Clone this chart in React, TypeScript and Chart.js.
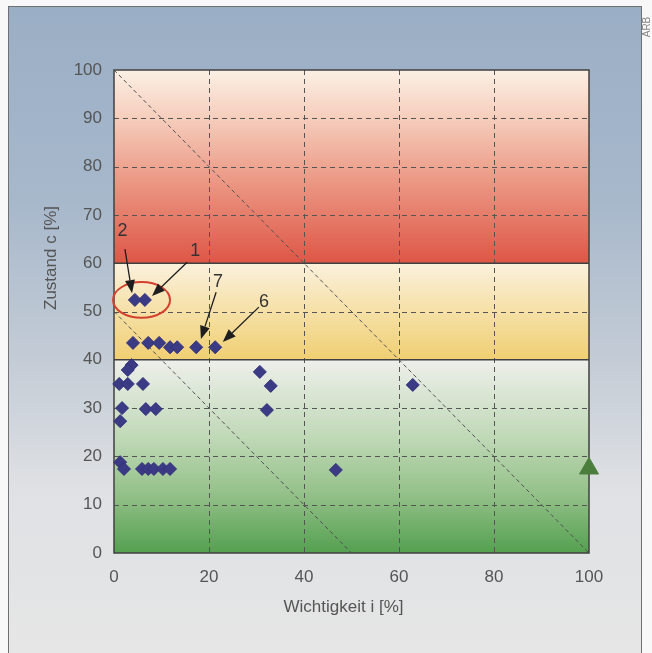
import React, { useEffect, useRef } from 'react';
import { Chart, registerables } from 'chart.js';
Chart.register(...registerables);

const W = 652;
const H = 653;

// Measures: Wichtigkeit i [%] (x) vs Zustand c [%] (y)
const pointX = [6.5, 4.4, 4.0, 7.2, 9.5, 11.8, 13.3, 17.3, 21.3, 3.7, 2.9, 1.1, 2.9, 6.1, 1.7, 6.7, 8.8, 1.3, 1.3, 2.1, 5.9, 7.2, 8.4, 10.3, 11.8, 30.7, 33.0, 32.2, 46.7, 62.9];
const pointY = [52.4, 52.4, 43.5, 43.5, 43.5, 42.6, 42.6, 42.6, 42.6, 38.9, 37.9, 35.0, 35.0, 35.0, 30.0, 29.8, 29.8, 27.3, 18.8, 17.4, 17.4, 17.4, 17.4, 17.4, 17.4, 37.5, 34.6, 29.6, 17.2, 34.8];

const targetX = [100];
const targetY = [17.5];

// diagonal reference lines (i + c = const)
const diag1X = [0, 100];
const diag1Y = [100, 0];
const diag2X = [0, 50];
const diag2Y = [50, 0];

// zones (c ranges)
const zoneLow = [0, 40, 60];
const zoneHigh = [40, 60, 100];

const xTickStep = 20;
const yTickStep = 10;

// callouts: label, label pos, arrow start, arrow tip (data units)
const calloutLabels = ['2', '1', '7', '6'];
const calloutLabelX = [1.8, 17.1, 21.9, 31.6];
const calloutLabelY = [66.7, 62.5, 56.1, 52.0];
const calloutFromX = [2.3, 15.4, 21.5, 30.5];
const calloutFromY = [62.9, 60.2, 54.0, 50.9];
const calloutToX = [3.8, 8.0, 18.3, 22.9];
const calloutToY = [53.8, 53.2, 44.3, 43.7];

const ellipseCX = 5.8;
const ellipseCY = 52.4;
const ellipseRX = 6.0;
const ellipseRY = 3.7;

const FONT = '"Liberation Sans", Arial, sans-serif';

// zone colour stops (styles)
const zoneStops: [number, string][][] = [
  [[0, '#eeefeb'], [0.4, '#c0d9b7'], [0.7, '#93c088'], [1, '#54a050']],
  [[0, '#fbf1dc'], [1, '#f0cf72']],
  [[0, '#fbf0e4'], [0.25, '#f6cdbc'], [0.55, '#ec9c88'], [1, '#de5646']],
];

function drawArrow(ctx: CanvasRenderingContext2D, x1: number, y1: number, x2: number, y2: number) {
  const ang = Math.atan2(y2 - y1, x2 - x1);
  const len = 13;
  const hw = 5;
  const bx = x2 - Math.cos(ang) * len;
  const by = y2 - Math.sin(ang) * len;
  ctx.beginPath();
  ctx.moveTo(x1, y1);
  ctx.lineTo(bx, by);
  ctx.stroke();
  ctx.beginPath();
  ctx.moveTo(x2, y2);
  ctx.lineTo(bx - Math.sin(ang) * hw, by + Math.cos(ang) * hw);
  ctx.lineTo(bx + Math.sin(ang) * hw, by - Math.cos(ang) * hw);
  ctx.closePath();
  ctx.fill();
}

const decorPlugin = {
  id: 'decor',
  beforeDraw(chart: any) {
    const { ctx, chartArea: a, scales } = chart;
    const y = scales.y;
    ctx.save();
    ctx.fillStyle = '#f8f8f8';
    ctx.fillRect(0, 0, W, H);
    const g = ctx.createLinearGradient(0, 6, 0, H);
    g.addColorStop(0, '#9aaec5');
    g.addColorStop(0.3, '#a7b8cb');
    g.addColorStop(0.55, '#c4ccd6');
    g.addColorStop(0.75, '#dfe1e4');
    g.addColorStop(1, '#e6e6e6');
    ctx.fillStyle = g;
    ctx.fillRect(8, 6, 634, H - 6);
    ctx.strokeStyle = '#707070';
    ctx.lineWidth = 1;
    ctx.strokeRect(8.5, 6.5, 633, H + 10);
    for (let i = 0; i < zoneLow.length; i++) {
      const yTop = y.getPixelForValue(zoneHigh[i]);
      const yBot = y.getPixelForValue(zoneLow[i]);
      const zg = ctx.createLinearGradient(0, yTop, 0, yBot);
      zoneStops[i].forEach(([o, c]) => zg.addColorStop(o, c));
      ctx.fillStyle = zg;
      ctx.fillRect(a.left, yTop, a.right - a.left, yBot - yTop);
    }
    ctx.restore();
  },
  beforeDatasetsDraw(chart: any) {
    const { ctx, chartArea: a, scales } = chart;
    const x = scales.x;
    const y = scales.y;
    ctx.save();
    ctx.strokeStyle = '#555555';
    ctx.lineWidth = 1;
    ctx.setLineDash([5, 4]);
    x.ticks.forEach((t: any) => {
      if (t.value > 0 && t.value < 100) {
        const px = Math.round(x.getPixelForValue(t.value)) + 0.5;
        ctx.beginPath();
        ctx.moveTo(px, a.top);
        ctx.lineTo(px, a.bottom);
        ctx.stroke();
      }
    });
    y.ticks.forEach((t: any) => {
      if (t.value > 0 && t.value < 100 && !zoneLow.includes(t.value)) {
        const py = Math.round(y.getPixelForValue(t.value)) + 0.5;
        ctx.beginPath();
        ctx.moveTo(a.left, py);
        ctx.lineTo(a.right, py);
        ctx.stroke();
      }
    });
    ctx.setLineDash([]);
    ctx.strokeStyle = '#404040';
    ctx.lineWidth = 1.5;
    zoneLow.forEach((v) => {
      if (v > 0) {
        const py = y.getPixelForValue(v);
        ctx.beginPath();
        ctx.moveTo(a.left, py);
        ctx.lineTo(a.right, py);
        ctx.stroke();
      }
    });
    ctx.strokeRect(a.left, a.top, a.right - a.left, a.bottom - a.top);
    ctx.restore();
  },
  afterDatasetsDraw(chart: any) {
    const { ctx, chartArea: a, scales } = chart;
    const x = scales.x;
    const y = scales.y;
    ctx.save();
    // ellipse
    const cx = x.getPixelForValue(ellipseCX);
    const cy = y.getPixelForValue(ellipseCY);
    const rx = x.getPixelForValue(ellipseCX + ellipseRX) - cx;
    const ry = cy - y.getPixelForValue(ellipseCY + ellipseRY);
    ctx.strokeStyle = '#d4402f';
    ctx.lineWidth = 2;
    ctx.beginPath();
    ctx.ellipse(cx, cy, rx, ry, 0, 0, Math.PI * 2);
    ctx.stroke();
    // callouts
    ctx.strokeStyle = '#1e1e1e';
    ctx.fillStyle = '#1e1e1e';
    ctx.lineWidth = 1.3;
    for (let i = 0; i < calloutLabels.length; i++) {
      drawArrow(
        ctx,
        x.getPixelForValue(calloutFromX[i]),
        y.getPixelForValue(calloutFromY[i]),
        x.getPixelForValue(calloutToX[i]),
        y.getPixelForValue(calloutToY[i])
      );
    }
    ctx.fillStyle = '#333';
    ctx.font = `18px ${FONT}`;
    ctx.textAlign = 'center';
    ctx.textBaseline = 'middle';
    for (let i = 0; i < calloutLabels.length; i++) {
      ctx.fillText(calloutLabels[i], x.getPixelForValue(calloutLabelX[i]), y.getPixelForValue(calloutLabelY[i]));
    }
    // axis titles
    ctx.fillStyle = '#555';
    ctx.font = `17px ${FONT}`;
    ctx.fillText('Wichtigkeit i [%]', (a.left + a.right) / 2 - 8, 607);
    ctx.save();
    ctx.translate(51, 258);
    ctx.rotate(-Math.PI / 2);
    ctx.fillText('Zustand c [%]', 0, 0);
    ctx.restore();
    // credit
    ctx.save();
    ctx.fillStyle = '#888';
    ctx.font = `10px ${FONT}`;
    ctx.translate(647, 27);
    ctx.rotate(-Math.PI / 2);
    ctx.fillText('ARB', 0, 0);
    ctx.restore();
    ctx.restore();
  },
};

export default function App() {
  const ref = useRef<HTMLCanvasElement | null>(null);
  useEffect(() => {
    if (!ref.current) return;
    const points = pointX.map((v, i) => ({ x: v, y: pointY[i] }));
    const target = targetX.map((v, i) => ({ x: v, y: targetY[i] }));
    const d1 = diag1X.map((v, i) => ({ x: v, y: diag1Y[i] }));
    const d2 = diag2X.map((v, i) => ({ x: v, y: diag2Y[i] }));
    const tickFont = { family: FONT, size: 17 };
    const chart = new Chart(ref.current, {
      type: 'scatter',
      data: {
        datasets: [
          {
            data: points,
            pointStyle: 'rectRot',
            pointRadius: 6.5,
            backgroundColor: '#3b3a84',
            borderColor: '#33327a',
            borderWidth: 1,
            clip: false,
            order: 0,
          } as any,
          {
            data: target,
            pointStyle: 'triangle',
            pointRadius: 11,
            backgroundColor: '#4b7e3d',
            borderColor: '#4b7e3d',
            borderWidth: 1,
            clip: false,
            order: 0,
          } as any,
          {
            data: d1,
            showLine: true,
            pointRadius: 0,
            borderColor: '#505050',
            borderWidth: 1,
            borderDash: [4, 3],
            order: 1,
          } as any,
          {
            data: d2,
            showLine: true,
            pointRadius: 0,
            borderColor: '#505050',
            borderWidth: 1,
            borderDash: [4, 3],
            order: 1,
          } as any,
        ],
      },
      options: {
        responsive: false,
        animation: false,
        devicePixelRatio: 1,
        layout: { padding: { left: 0, top: 70, right: 63, bottom: 0 } },
        plugins: { legend: { display: false }, tooltip: { enabled: false } },
        scales: {
          x: {
            type: 'linear',
            min: 0,
            max: 100,
            ticks: { stepSize: xTickStep, padding: 14, color: '#555', font: tickFont },
            grid: { display: false, drawTicks: false },
            border: { display: false },
            afterFit(s: any) {
              s.height = 100;
            },
          },
          y: {
            type: 'linear',
            min: 0,
            max: 100,
            ticks: { stepSize: yTickStep, padding: 12, color: '#555', font: tickFont },
            grid: { display: false, drawTicks: false },
            border: { display: false },
            afterFit(s: any) {
              s.width = 114;
            },
          },
        },
      } as any,
      plugins: [decorPlugin],
    });
    return () => chart.destroy();
  }, []);
  return (
    <div style={{ position: 'fixed', left: 0, top: 0, width: W, height: H }}>
      <canvas ref={ref} width={W} height={H} style={{ display: 'block' }} />
    </div>
  );
}
